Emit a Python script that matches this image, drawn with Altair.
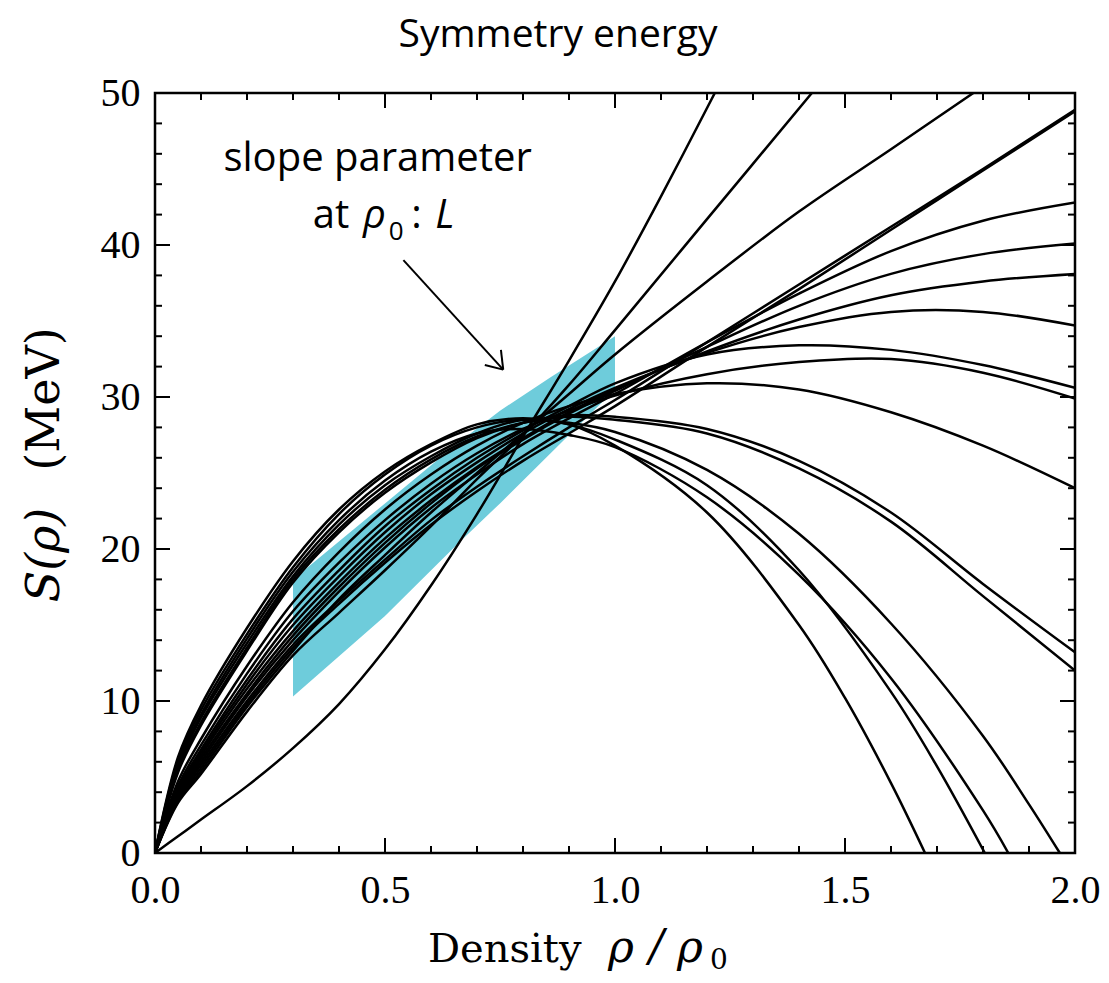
import altair as alt
import pandas as pd

# ---------------- data ----------------
RHO = [0.0, 0.05, 0.1, 0.2, 0.3, 0.4, 0.5, 0.6, 0.7, 0.8, 0.9, 1.0, 1.2, 1.4, 1.6, 1.8, 2.0]

# curves that reach rho = 2.0 (named by their value at 2.0)
S_E489a = [0, 3.6, 5.8, 10.0, 13.7, 16.6, 19.3, 21.9, 24.1, 26.1, 28.0, 29.8, 33.6, 37.4, 41.2, 45.0, 48.9]
S_E489b = [0, 3.5, 5.6, 9.8, 13.5, 16.4, 19.1, 21.6, 23.8, 25.8, 27.6, 29.4, 33.3, 37.1, 41.0, 44.9, 48.8]
S_E428 = [0, 3.7, 6.0, 10.3, 14.0, 17.2, 20.1, 22.7, 24.9, 26.9, 28.6, 30.2, 33.6, 36.8, 39.6, 41.6, 42.8]
S_E401 = [0, 3.8, 6.2, 10.5, 14.3, 17.5, 20.4, 23.0, 25.3, 27.2, 28.9, 30.4, 33.3, 36.0, 38.1, 39.4, 40.1]
S_E381 = [0, 3.9, 6.4, 10.8, 14.6, 17.8, 20.7, 23.2, 25.4, 27.3, 29.0, 30.5, 33.0, 35.1, 36.7, 37.6, 38.1]
S_E347 = [0, 4.0, 6.6, 11.1, 15.0, 18.2, 21.1, 23.6, 25.7, 27.6, 29.2, 30.6, 32.9, 34.6, 35.6, 35.6, 34.7]
S_E307 = [0, 4.2, 6.8, 11.4, 15.4, 18.6, 21.5, 23.9, 26.0, 27.8, 29.4, 30.9, 32.8, 33.4, 33.1, 32.1, 30.6]
S_E299 = [0, 4.4, 7.1, 11.8, 15.9, 19.1, 21.9, 24.3, 26.3, 27.9, 29.1, 30.1, 31.5, 32.3, 32.5, 31.6, 29.9]
S_E240 = [0, 4.7, 7.5, 12.3, 16.5, 19.8, 22.6, 24.9, 26.8, 28.3, 29.4, 30.2, 30.9, 30.5, 29.0, 26.8, 24.0]
S_E132 = [0, 5.3, 8.4, 13.3, 17.8, 21.1, 23.7, 25.7, 27.3, 28.3, 28.8, 28.7, 27.9, 25.8, 22.4, 17.7, 13.2]
S_E120 = [0, 5.5, 8.6, 13.5, 18.0, 21.3, 23.9, 25.9, 27.4, 28.3, 28.7, 28.5, 27.6, 25.3, 21.8, 16.9, 12.0]

# curves that leave the frame early: values on RHO, then their own extra points
S_Z4 = [0, 5.7, 8.9, 13.8, 18.2, 21.6, 24.2, 26.1, 27.6, 28.5, 28.3, 27.7, 25.2, 21.0, 15.1, 7.7]
X_Z4_RHO, X_Z4_S = [1.9, 1.967], [3.2, 0.0]
S_Z3 = [0, 5.9, 9.1, 14.1, 18.5, 21.9, 24.5, 26.4, 27.6, 27.9, 27.5, 26.7, 23.4, 18.3, 11.5, 2.8]
X_Z3_RHO, X_Z3_S = [1.855], [0.0]
S_Z2 = [0, 6.1, 9.4, 14.4, 18.8, 22.3, 24.9, 26.8, 28.0, 28.5, 28.2, 27.2, 24.2, 18.6, 10.6]
X_Z2_RHO, X_Z2_S = [1.7, 1.804], [5.7, 0.0]
S_Z1 = [0, 6.3, 9.7, 14.8, 19.2, 22.6, 25.1, 26.9, 28.2, 28.6, 28.2, 26.8, 22.4, 15.0]
X_Z1_RHO, X_Z1_S = [1.5, 1.6, 1.674], [10.2, 4.6, 0.0]
S_C = [0, 3.4, 5.4, 9.6, 13.3, 16.7, 19.6, 22.4, 25.0, 27.6, 30.2, 32.8, 37.6, 42.2, 46.3]
X_C_RHO, X_C_S = [1.779], [50.0]
S_B = [0, 3.3, 5.2, 9.3, 13.0, 15.8, 18.6, 21.5, 24.6, 27.5, 30.8, 34.4, 41.7]
X_B_RHO, X_B_S = [1.428], [50.0]
S_A = [0, 1.1, 2.2, 4.4, 6.9, 9.8, 13.4, 17.6, 22.3, 27.4, 32.4, 37.6]
X_A_RHO, X_A_S = [1.1, 1.217], [43.2, 50.0]

# shaded band (L constraint)
BAND_RHO = [0.3, 0.5, 0.66, 0.75, 0.86, 1.0]
BAND_LO = [10.3, 15.6, 20.4, 23.0, 26.3, 30.5]
BAND_HI = [18.0, 23.0, 27.0, 29.1, 31.3, 34.0]

# arrow (tail, tip, two head ends)
ARROW_X = [0.540, 0.757, 0.752, 0.717]
ARROW_Y = [39.0, 31.8, 33.1, 32.1]

X_MAJOR = [0.0, 0.5, 1.0, 1.5, 2.0]
X_MINOR = [0.1, 0.2, 0.3, 0.4, 0.6, 0.7, 0.8, 0.9, 1.1, 1.2, 1.3, 1.4, 1.6, 1.7, 1.8, 1.9]
Y_MAJOR = [0, 10, 20, 30, 40, 50]
Y_MINOR = [2, 4, 6, 8, 12, 14, 16, 18, 22, 24, 26, 28, 32, 34, 36, 38, 42, 44, 46, 48]

# ---------------- build tables ----------------
curve_specs = [
    ("E489a", S_E489a, [], []), ("E489b", S_E489b, [], []),
    ("E428", S_E428, [], []), ("E401", S_E401, [], []),
    ("E381", S_E381, [], []), ("E347", S_E347, [], []),
    ("E307", S_E307, [], []), ("E299", S_E299, [], []),
    ("E240", S_E240, [], []), ("E132", S_E132, [], []),
    ("E120", S_E120, [], []),
    ("Z4", S_Z4, X_Z4_RHO, X_Z4_S), ("Z3", S_Z3, X_Z3_RHO, X_Z3_S),
    ("Z2", S_Z2, X_Z2_RHO, X_Z2_S), ("Z1", S_Z1, X_Z1_RHO, X_Z1_S),
    ("C", S_C, X_C_RHO, X_C_S), ("B", S_B, X_B_RHO, X_B_S),
    ("A", S_A, X_A_RHO, X_A_S),
]
rows = []
for name, svals, xr, xs in curve_specs:
    rr = RHO[: len(svals)] + list(xr)
    ss = list(svals) + list(xs)
    for i, (r, s) in enumerate(zip(rr, ss)):
        rows.append({"curve": name, "rho": r, "S": s, "i": i})
lines_df = pd.DataFrame(rows)

band_df = pd.DataFrame({"rho": BAND_RHO, "lo": BAND_LO, "hi": BAND_HI})
arrow_df = pd.DataFrame({
    "x": [ARROW_X[0], ARROW_X[1], ARROW_X[1]],
    "y": [ARROW_Y[0], ARROW_Y[1], ARROW_Y[1]],
    "x2": [ARROW_X[1], ARROW_X[2], ARROW_X[3]],
    "y2": [ARROW_Y[1], ARROW_Y[2], ARROW_Y[3]],
})

W, H = 920, 760
x_scale = alt.Scale(domain=[0, 2], nice=False, zero=False)
y_scale = alt.Scale(domain=[0, 50], nice=False, zero=False)
x_axis = alt.Axis(values=X_MAJOR, format=".1f", title=None, ticks=False, domain=False,
                  grid=False, labelFont="Liberation Serif", labelFontSize=40,
                  labelColor="black", labelPadding=17, labelFlush=False, labelOverlap=False)
y_axis = alt.Axis(values=Y_MAJOR, format="d", title=None, ticks=False, domain=False,
                  grid=False, labelFont="Liberation Serif", labelFontSize=40,
                  labelColor="black", labelPadding=15, labelFlush=False, labelOverlap=False)


def X(field):
    return alt.X(field, type="quantitative", scale=x_scale, axis=x_axis)


def Y(field):
    return alt.Y(field, type="quantitative", scale=y_scale, axis=y_axis)


band = alt.Chart(band_df).mark_area(color="#6ECCDB", opacity=1, interpolate="linear").encode(
    x=X("rho"), y=Y("lo"), y2="hi")

lines = alt.Chart(lines_df).mark_line(color="black", strokeWidth=2.5,
                                      interpolate="catmull-rom", clip=True).encode(
    x=X("rho"), y=Y("S"), detail="curve:N", order="i:Q")

arrow = alt.Chart(arrow_df).mark_rule(color="black", strokeWidth=2).encode(
    x=X("x"), y=Y("y"), x2="x2", y2="y2")

# inward ticks on all four sides
xmaj = pd.DataFrame({"v": X_MAJOR})
xmin = pd.DataFrame({"v": X_MINOR})
ymaj = pd.DataFrame({"v": Y_MAJOR})
ymin = pd.DataFrame({"v": Y_MINOR})
tick_layers = []
for df, L in ((xmaj, 15), (xmin, 7)):
    tick_layers.append(alt.Chart(df).mark_rule(color="black", strokeWidth=2).encode(
        x=X("v"), y=alt.value(H), y2=alt.value(H - L)))
    tick_layers.append(alt.Chart(df).mark_rule(color="black", strokeWidth=2).encode(
        x=X("v"), y=alt.value(0), y2=alt.value(L)))
for df, L in ((ymaj, 15), (ymin, 7)):
    tick_layers.append(alt.Chart(df).mark_rule(color="black", strokeWidth=2).encode(
        y=Y("v"), x=alt.value(0), x2=alt.value(L)))
    tick_layers.append(alt.Chart(df).mark_rule(color="black", strokeWidth=2).encode(
        y=Y("v"), x=alt.value(W), x2=alt.value(W - L)))

anchor = alt.Chart(pd.DataFrame({"k": [0]}))


def dtext(txt, x, y, size=40, style="normal", align="left", font="Open Sans"):
    return anchor.mark_text(text=txt, font=font, fontSize=size, fontStyle=style,
                            align=align, baseline="alphabetic", color="black").encode(
        x=alt.X(datum=x, type="quantitative", scale=x_scale, axis=x_axis),
        y=alt.Y(datum=y, type="quantitative", scale=y_scale, axis=y_axis))


def ptext(txt, x, y, size=40, style="normal", align="left", font="DejaVu Serif",
          angle=0, baseline="alphabetic"):
    return anchor.mark_text(text=txt, font=font, fontSize=size, fontStyle=style,
                            align=align, baseline=baseline, angle=angle,
                            color="black").encode(x=alt.value(x), y=alt.value(y))


annot = [
    dtext("slope parameter", 0.484, 44.87, align="center"),
    dtext("at", 0.343, 41.1),
    dtext("ρ", 0.452, 41.1, style="italic"),
    dtext("0", 0.508, 40.3, size=26),
    dtext(":", 0.557, 41.1),
    dtext("L", 0.609, 41.1, style="italic"),
]

frame_text = [
    ptext("Density", 273, 869, size=40),
    ptext("ρ", 453, 869, size=44, style="italic"),
    ptext("/", 494, 868, size=44, style="italic"),
    ptext("ρ", 522, 869, size=44, style="italic"),
    ptext("0", 555, 876, size=28),
    ptext("S(ρ)", -110, 462, size=46, style="italic", align="center", angle=270,
          baseline="middle"),
    ptext("(MeV)", -110, 306, size=46, align="center", angle=270, baseline="middle"),
]

chart = alt.layer(band, lines, arrow, *tick_layers, *annot, *frame_text).properties(
    width=W, height=H,
    title=alt.TitleParams("Symmetry energy", font="Open Sans", fontSize=39,
                          fontWeight="normal", color="black", anchor="middle",
                          dx=-57, offset=18),
    autosize=alt.AutoSizeParams(type="none"),
    padding={"left": 147, "top": 85, "right": 26, "bottom": 122},
    background="white",
).configure_view(stroke="black", strokeWidth=2.5)

chart.save("out.html", embed_options={"renderer": "svg", "actions": False})
